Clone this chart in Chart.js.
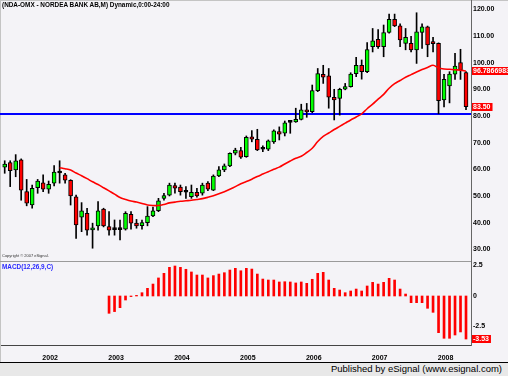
<!DOCTYPE html>
<html>
<head>
<meta charset="utf-8">
<script src="https://cdn.jsdelivr.net/npm/chart.js@4.4.1/dist/chart.umd.min.js"></script>
<style>
  body { margin: 0; background: #fff; }
  #wrap { position: relative; width: 508px; height: 376px; background: #f4f3f7; overflow: hidden;
          font-family: "Liberation Sans", Arial, sans-serif; }
  #wrap canvas { position: absolute; left: 0; }
  #price { top: 0; }
  #macd { top: 261px; }
  .txt { position: absolute; white-space: nowrap; line-height: 1; }
  #title { left: 2px; top: 2px; font-size: 6.4px; font-weight: bold; color: #000; }
  #copy { left: 2px; top: 254px; font-size: 4px; color: #333; }
  #macdLbl { left: 2px; top: 264px; font-size: 6.4px; font-weight: bold; color: #2828ff; }
  #sep { position: absolute; left: 0; top: 261px; width: 471px; height: 1px; background: #9a9a9a; }
  #edge { position: absolute; left: 0; top: 0; width: 507px; height: 361px;
          border-left: 1px solid #c4c4c4; border-top: 1px solid #c4c4c4; }
  #foot { position: absolute; left: 0; top: 362px; width: 508px; height: 14px;
          background: #e8e8e8; border-top: 1px solid #000; }
  #pub { right: 6px; top: 1px; font-size: 9.5px; color: #000; }
</style>
</head>
<body>
<div id="wrap">
  <div id="edge"></div>
  <div id="sep"></div>
  <canvas id="price" width="508" height="261"></canvas>
  <canvas id="macd" width="508" height="101"></canvas>
  <div class="txt" id="title">(NDA-OMX - NORDEA BANK AB,M) Dynamic,0:00-24:00</div>
  <div class="txt" id="copy">Copyright © 2007 eSignal.</div>
  <div class="txt" id="macdLbl">MACD(12,26,9,C)</div>
  <div id="foot"><div class="txt" id="pub">Published by eSignal (www.esignal.com)</div></div>
</div>
<script>
// monthly bars, May 2001 - May 2008
var months = [
  "2001-05", "2001-06", "2001-07", "2001-08", "2001-09", "2001-10", "2001-11", "2001-12",
  "2002-01", "2002-02", "2002-03", "2002-04", "2002-05", "2002-06", "2002-07", "2002-08", "2002-09", "2002-10", "2002-11", "2002-12",
  "2003-01", "2003-02", "2003-03", "2003-04", "2003-05", "2003-06", "2003-07", "2003-08", "2003-09", "2003-10", "2003-11", "2003-12",
  "2004-01", "2004-02", "2004-03", "2004-04", "2004-05", "2004-06", "2004-07", "2004-08", "2004-09", "2004-10", "2004-11", "2004-12",
  "2005-01", "2005-02", "2005-03", "2005-04", "2005-05", "2005-06", "2005-07", "2005-08", "2005-09", "2005-10", "2005-11", "2005-12",
  "2006-01", "2006-02", "2006-03", "2006-04", "2006-05", "2006-06", "2006-07", "2006-08", "2006-09", "2006-10", "2006-11", "2006-12",
  "2007-01", "2007-02", "2007-03", "2007-04", "2007-05", "2007-06", "2007-07", "2007-08", "2007-09", "2007-10", "2007-11", "2007-12",
  "2008-01", "2008-02", "2008-03", "2008-04", "2008-05"
];

var opens = [60.8, 62.5, 59.8, 63.5, 51.6, 46.6, 53.1, 54.9, 52.5, 54.8,
  58.8, 57.9, 55.9, 49.7, 42.0, 43.5, 37.3, 38.8, 45.1, 38.5,
  37.6, 37.4, 37.5, 43.1, 39.8, 38.9, 40.0, 42.5, 44.5, 49.1,
  50.3, 53.9, 53.3, 51.6, 49.7, 51.4, 51.0, 54.8, 52.2, 57.5,
  59.8, 61.3, 66.0, 67.0, 64.7, 72.2, 71.2, 67.5, 67.5, 70.3,
  74.1, 73.5, 77.6, 77.8, 78.7, 82.3, 81.6, 89.5, 95.6, 95.0,
  87.0, 86.6, 90.0, 91.0, 95.9, 99.0, 96.6, 106.0, 108.7, 106.0,
  111.3, 116.2, 113.8, 107.2, 107.2, 104.8, 111.3, 113.4, 107.8, 107.2,
  86.0, 91.3, 95.7, 100.0, 96.3];

var highs = [63.2, 63.2, 65.5, 63.9, 56.2, 54.1, 56.2, 57.9, 55.6, 61.4,
  63.2, 58.5, 56.1, 50.3, 47.5, 45.4, 39.8, 47.9, 45.4, 44.1,
  41.0, 41.0, 44.1, 44.1, 41.2, 41.0, 46.0, 45.8, 49.1, 51.0,
  54.8, 54.8, 54.1, 53.5, 54.1, 52.9, 54.8, 55.4, 57.9, 61.0,
  62.0, 66.2, 67.9, 68.2, 72.5, 74.5, 75.0, 68.8, 71.0, 74.8,
  75.9, 78.1, 78.0, 82.9, 84.4, 84.7, 91.6, 97.8, 99.0, 97.8,
  90.0, 90.4, 92.2, 96.2, 102.0, 101.0, 107.5, 112.8, 112.4, 114.1,
  118.2, 118.2, 114.5, 112.8, 109.9, 118.7, 114.5, 113.7, 109.5, 107.4,
  95.6, 96.6, 103.5, 105.0, 96.6];

var lows = [58.5, 53.5, 57.2, 48.4, 46.3, 45.4, 51.0, 51.6, 51.0, 53.8,
  54.8, 54.8, 46.6, 34.1, 36.6, 35.3, 30.4, 37.2, 38.4, 35.3,
  35.3, 33.5, 37.2, 37.5, 37.9, 37.5, 38.8, 42.2, 44.1, 48.4,
  50.0, 51.0, 50.3, 49.1, 49.1, 49.5, 50.3, 52.0, 52.0, 57.2,
  59.1, 61.0, 65.4, 64.1, 64.5, 70.3, 67.0, 66.6, 67.0, 69.7,
  71.0, 72.5, 73.5, 77.6, 78.5, 79.5, 81.2, 89.1, 92.2, 82.9,
  78.5, 80.3, 89.8, 90.8, 94.7, 93.8, 96.2, 104.0, 105.3, 102.2,
  111.0, 113.5, 106.0, 104.8, 104.0, 99.7, 105.3, 102.2, 104.0, 80.8,
  83.4, 84.9, 93.7, 93.7, 82.4];

var closes = [62.0, 59.5, 63.2, 52.2, 47.3, 52.9, 55.6, 52.5, 54.4, 59.0,
  58.6, 55.9, 50.0, 39.1, 44.4, 37.2, 37.7, 44.4, 38.8, 37.2,
  37.4, 37.6, 43.5, 39.8, 38.8, 40.0, 42.5, 44.4, 48.2, 50.1,
  54.1, 52.9, 51.6, 51.4, 51.4, 50.0, 54.1, 52.5, 57.5, 59.8,
  61.3, 66.0, 67.2, 64.5, 72.0, 71.3, 67.3, 67.6, 70.7, 74.4,
  73.2, 77.4, 77.8, 78.7, 82.3, 81.5, 89.5, 95.9, 94.5, 87.0,
  86.0, 90.0, 91.0, 95.7, 99.0, 96.6, 104.9, 108.2, 106.0, 111.3,
  116.2, 113.8, 108.5, 109.5, 104.8, 111.5, 113.4, 106.6, 107.1, 85.7,
  93.7, 95.7, 98.7, 97.3, 83.5];

// red moving average, first plotted at bar 10
var maStart = 10;
var maValues = [60.6, 60.2, 59.7, 58.6, 57.6, 56.5, 55.3, 54.3, 53.1, 51.9,
  50.7, 49.4, 48.7, 48.1, 47.7, 47.2, 46.6, 46.4, 46.4, 46.8,
  47.4, 47.7, 48.0, 48.2, 48.4, 48.7, 49.0, 49.5, 50.1, 50.8,
  51.6, 52.5, 53.5, 54.6, 55.4, 56.3, 57.3, 58.2, 59.1, 60.0,
  60.8, 62.0, 63.1, 64.1, 64.9, 66.3, 67.9, 70.4, 72.3, 73.6,
  74.9, 76.1, 77.3, 78.5, 79.6, 80.8, 82.7, 84.4, 86.3, 88.1,
  90.4, 92.1, 93.3, 94.5, 95.5, 96.5, 97.4, 98.2, 99.0, 98.0,
  97.6, 97.5, 97.3, 97.2, 96.7866983];

// MACD(12,26,9) bars, first plotted at bar 19
var macdStart = 19;
var macdValues = [-1.42,
  -1.28, -0.96, -0.33, -0.05, 0.05, 0.27, 0.63, 0.98, 1.48, 1.86,
  2.35, 2.46, 2.35, 2.19, 1.97, 1.72, 1.72, 1.48, 1.67, 1.80,
  1.91, 2.13, 2.27, 2.07, 2.27, 2.21, 1.80, 1.39, 1.31, 1.31,
  1.15, 1.17, 1.15, 1.07, 1.15, 1.04, 1.37, 1.86, 1.94, 1.31,
  0.63, 0.49, 0.27, 0.41, 0.57, 0.41, 0.82, 1.12, 0.98, 1.12,
  1.45, 1.31, 0.57, 0.16, -0.55, -0.55, -0.55, -1.01, -1.34, -3.01,
  -3.47, -3.47, -3.2, -2.95, -3.53];

var priceTicks = [30, 40, 50, 60, 70, 80, 90, 100, 110, 120];
var macdTicks = [-2.5, 0, 2.5];
var yearTicks = [8, 20, 32, 44, 56, 68, 80];
var supportLevel = 80.75;

var FONT = { family: 'Liberation Sans', size: 7, weight: 'bold' };
var xMin = -0.674, xMax = 84.91;

var bodies = opens.map(function (o, i) {
  return { x: i, y: [Math.min(o, closes[i]), Math.max(o, closes[i])] };
});
var bodyColors = opens.map(function (o, i) {
  if (Math.abs(closes[i] - o) < 0.25) return '#000';
  return closes[i] > o ? '#00ff00' : '#ff0000';
});
var wicks = lows.map(function (l, i) { return { x: i, y: [l, highs[i]] }; });
var maPoints = maValues.map(function (v, i) { return { x: i + maStart, y: v }; });
var macdPoints = macdValues.map(function (v, i) { return { x: i + macdStart, y: v }; });

function rightAxisFit(s) {
  s.width = 37;
  s.paddingTop = 0;
  s.paddingBottom = 0;
}

function valueBox(chart, value, text, fullWidth) {
  var ctx = chart.ctx, area = chart.chartArea;
  var y = Math.round(chart.scales.y.getPixelForValue(value));
  ctx.save();
  ctx.font = 'bold 7px "Liberation Sans"';
  var w = fullWidth ? chart.width - area.right : ctx.measureText(text).width + 3;
  ctx.fillStyle = '#ff0000';
  ctx.fillRect(area.right + 1, y - 4, w, 8);
  ctx.fillStyle = '#fff';
  ctx.textBaseline = 'middle';
  ctx.fillText(text, area.right + 2, y + 0.5);
  ctx.restore();
}

var priceExtras = {
  id: 'priceExtras',
  beforeDatasetsDraw: function (chart) {
    var ctx = chart.ctx, area = chart.chartArea;
    var y = chart.scales.y.getPixelForValue(supportLevel);
    ctx.save();
    ctx.strokeStyle = '#0000ff';
    ctx.lineWidth = 2;
    ctx.beginPath();
    ctx.moveTo(area.left - 1, y);
    ctx.lineTo(area.right, y);
    ctx.stroke();
    ctx.restore();
  },
  afterDraw: function (chart) {
    valueBox(chart, maValues[maValues.length - 1], String(maValues[maValues.length - 1]), true);
    valueBox(chart, closes[closes.length - 1], closes[closes.length - 1].toFixed(2), false);
  }
};

new Chart(document.getElementById('price'), {
  type: 'bar',
  data: {
    datasets: [{
      type: 'line',
      data: maPoints,
      borderColor: '#ff0000',
      borderWidth: 1.6,
      pointRadius: 0,
      tension: 0.35
    }, {
      data: bodies,
      backgroundColor: bodyColors,
      borderColor: '#000',
      borderWidth: 1,
      borderSkipped: false,
      barThickness: 4,
      minBarLength: 2,
      grouped: false
    }, {
      data: wicks,
      backgroundColor: '#000',
      barThickness: 1,
      grouped: false
    }]
  },
  options: {
    responsive: false,
    animation: false,
    layout: { padding: { left: 1, right: 0, top: 0, bottom: 0 } },
    plugins: { legend: { display: false }, tooltip: { enabled: false } },
    scales: {
      x: { type: 'linear', offset: false, min: xMin, max: xMax, display: false },
      y: {
        position: 'right',
        min: 25.61,
        max: 123.48,
        grid: { display: false, drawTicks: false },
        border: { display: true, color: '#666' },
        afterBuildTicks: function (s) { s.ticks = priceTicks.map(function (v) { return { value: v }; }); },
        afterFit: rightAxisFit,
        ticks: {
          padding: 2,
          color: '#000',
          font: FONT,
          callback: function (v) { return v.toFixed(2); }
        }
      }
    }
  },
  plugins: [priceExtras]
});

var macdExtras = {
  id: 'macdExtras',
  afterDraw: function (chart) {
    var last = macdValues[macdValues.length - 1];
    valueBox(chart, last, last.toFixed(2), false);
  }
};

new Chart(document.getElementById('macd'), {
  type: 'bar',
  data: {
    datasets: [{
      data: macdPoints,
      backgroundColor: '#ff0000',
      barThickness: 2
    }]
  },
  options: {
    responsive: false,
    animation: false,
    layout: { padding: { left: 1, right: 0, top: 0, bottom: 0 } },
    plugins: { legend: { display: false }, tooltip: { enabled: false } },
    scales: {
      x: {
        type: 'linear',
        offset: false,
        min: xMin,
        max: xMax,
        grid: { display: false, drawTicks: false, offset: false },
        border: { display: true, color: '#444' },
        afterBuildTicks: function (s) { s.ticks = yearTicks.map(function (v) { return { value: v }; }); },
        afterFit: function (s) { s.height = 17; },
        ticks: {
          padding: 9,
          labelOffset: 1.5,
          autoSkip: false,
          maxRotation: 0,
          color: '#000',
          font: FONT,
          callback: function (v) { return months[v].slice(0, 4); }
        }
      },
      y: {
        position: 'right',
        min: -4.02,
        max: 2.87,
        grid: { display: false, drawTicks: false },
        border: { display: true, color: '#666' },
        afterBuildTicks: function (s) { s.ticks = macdTicks.map(function (v) { return { value: v }; }); },
        afterFit: rightAxisFit,
        ticks: {
          padding: 2,
          color: '#000',
          font: FONT,
          callback: function (v) { return String(v); }
        }
      }
    }
  },
  plugins: [macdExtras]
});
</script>
</body>
</html>
